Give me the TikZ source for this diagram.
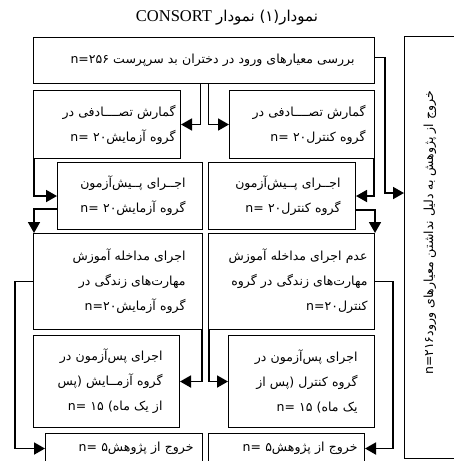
\documentclass[tikz,border=0pt]{standalone}
\usepackage{fontspec}
\setmainfont{Liberation Serif}
\newfontfamily\fa[Script=Arabic]{DejaVu Sans}
\usetikzlibrary{arrows.meta}
\TeXXeTstate=1
\newcommand\RL[1]{\beginR#1\endR}
\newcommand\LR[1]{\beginL#1\endL{}}
\begin{document}
\begin{tikzpicture}[x=1pt,y=-1pt,
  box/.style={draw, line width=1pt, inner sep=0pt, anchor=north west, align=right,
    font=\fa\fontsize{12.5}{25}\selectfont},
  conn/.style={line width=1.8pt, -{Triangle[length=11pt,width=12pt]}},
  title/.style={inner sep=0pt, font=\fontsize{16.5}{18}\selectfont},
  vtext/.style={rotate=90, inner sep=0pt, font=\fa\fontsize{12.5}{14}\selectfont}]
\useasboundingbox (0,0) rectangle (453,461);
\node[title] (title) at (227,18) {\LR{CONSORT} {\fa\fontsize{15}{17}\selectfont\RL{نمودار(۱) نمودار}}};
% boxes
\node[box, minimum width=341pt, minimum height=46pt, text width=301pt] (top) at (33,37)
  {\LR{n=۲۵۶} \RL{بررسی معیارهای ورود در دختران بد سرپرست}};
\node[box, minimum width=52pt, minimum height=422pt] (exit) at (404,36) {};
\node[vtext] (exittext) at (430,233) {\LR{n=۲۱۶}\RL{خروج از پژوهش به دلیل نداشتن معیارهای ورود}};
\node[box, minimum width=147pt, minimum height=68pt, text width=137pt] (r2L) at (33,90)
  {\RL{گمارش تصــــادفی در}\\ \LR{n= ۲۰}\RL{گروه آزمایش}};
\node[box, minimum width=145pt, minimum height=68pt, text width=127pt] (r2R) at (229,90)
  {\RL{گمارش تصــــادفی در}\\ \LR{n= ۲۰}\RL{گروه کنترل}};
\node[box, minimum width=145pt, minimum height=67pt, text width=111pt] (r3L) at (57,162)
  {\RL{اجــرای پــیش‌آزمون}\\ \LR{n= ۲۰}\RL{گروه آزمایش}};
\node[box, minimum width=147pt, minimum height=67pt, text width=117pt] (r3R) at (208,162)
  {\RL{اجــرای پــیش‌آزمون}\\ \LR{n= ۲۰}\RL{گروه کنترل}};
\node[box, minimum width=169pt, minimum height=96pt, text width=135pt] (r4L) at (33,233)
  {\RL{اجرای مداخله آموزش}\\ \RL{مهارت‌های زندگی در}\\ \LR{n=۲۰}\RL{گروه آزمایش}};
\node[box, minimum width=166pt, minimum height=96pt, text width=152pt] (r4R) at (208,233)
  {\RL{عدم اجرای مداخله آموزش}\\ \RL{مهارت‌های زندگی در گروه}\\ \LR{n=۲۰}\RL{کنترل}};
\node[box, minimum width=146pt, minimum height=92pt, text width=112pt] (r5L) at (33,335)
  {\RL{اجرای پس‌آزمون در}\\ \RL{گروه آزمــایش (پس}\\ \LR{n= ۱۵} \RL{از یک ماه)}};
\node[box, minimum width=146pt, minimum height=92pt, text width=112pt] (r5R) at (228,335)
  {\RL{اجرای پس‌آزمون در}\\ \RL{گروه کنترل (پس از}\\ \LR{n= ۱۵} \RL{یک ماه)}};
\node[box, minimum width=157pt, minimum height=30pt, text width=139pt] (r6L) at (45,433)
  {\LR{n= ۵}\RL{خروج از پژوهش}};
\node[box, minimum width=156pt, minimum height=30pt, text width=142pt] (r6R) at (208,433)
  {\LR{n= ۵}\RL{خروج از پژوهش}};
% connectors
\draw[conn] ([yshift=3pt]top.east) -| ([xshift=-19pt]exit.west |- 0,193) -- (exit.west |- 0,193);
\draw[conn] ([xshift=-3.5pt]top.south) |- (r2L.east);
\draw[conn] ([xshift=4.5pt]top.south) |- (r2R.west);
\draw[conn] ([xshift=1pt]r2L.south west) |- (r3L.west);
\draw[conn] ([xshift=-1pt]r2R.south east) |- (r3R.east);
\draw[conn] ([yshift=21pt]r3L.south west) -| ([xshift=1pt]r4L.north west);
\draw[conn] ([yshift=20pt]r3R.south east) -| (r4R.north east);
\draw[conn] ([xshift=-1pt]r4L.south east) |- (r5L.east);
\draw[conn] ([xshift=1pt]r4R.south west) |- (r5R.west);
\draw[conn] (r4L.west) -| ([xshift=-30pt]r6L.west) -- (r6L.west);
\draw[conn] (r4R.east) -| ([xshift=28pt]r6R.east) -- (r6R.east);
\end{tikzpicture}
\end{document}
